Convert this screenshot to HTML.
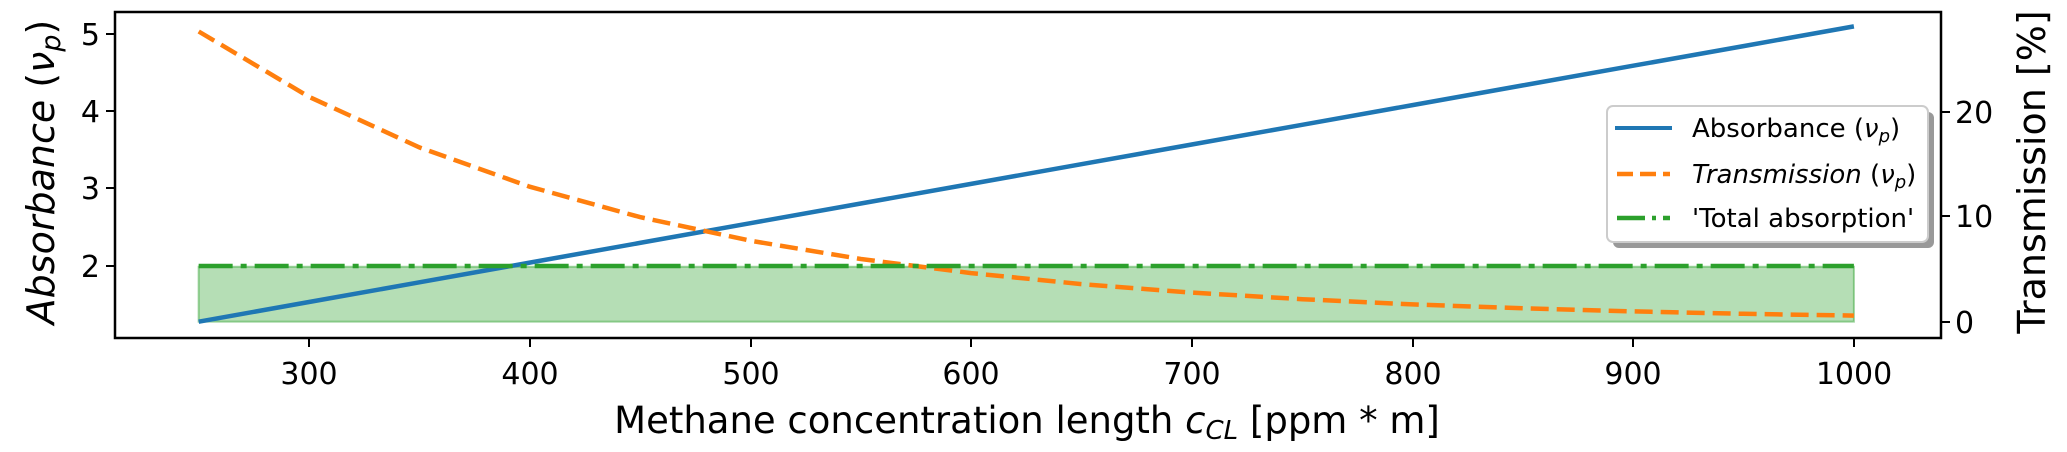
<!DOCTYPE html>
<html><head><meta charset="utf-8"><style>
html,body{margin:0;padding:0;background:#fff;}
svg{display:block;}
text{font-family:"DejaVu Sans","Liberation Sans",sans-serif;fill:#000;}
</style></head><body>
<svg id="s" width="2067" height="452" xmlns="http://www.w3.org/2000/svg">
<rect width="2067" height="452" fill="#fff"/>
<g id="plot"></g>
<rect x="115" y="12" width="1826" height="326" fill="none" stroke="#000" stroke-width="2.5"/>
<g stroke="#000" stroke-width="2">
<line x1="106" y1="34" x2="115" y2="34"/><line x1="106" y1="111" x2="115" y2="111"/>
<line x1="106" y1="188" x2="115" y2="188"/><line x1="106" y1="266" x2="115" y2="266"/>
<line x1="309" y1="338" x2="309" y2="347"/><line x1="530" y1="338" x2="530" y2="347"/>
<line x1="751" y1="338" x2="751" y2="347"/><line x1="971" y1="338" x2="971" y2="347"/>
<line x1="1192" y1="338" x2="1192" y2="347"/><line x1="1413" y1="338" x2="1413" y2="347"/>
<line x1="1633" y1="338" x2="1633" y2="347"/><line x1="1854" y1="338" x2="1854" y2="347"/>
<line x1="1941" y1="112" x2="1950" y2="112"/><line x1="1941" y1="216" x2="1950" y2="216"/>
<line x1="1941" y1="322" x2="1950" y2="322"/>
</g>
<g font-size="30" text-anchor="end">
<text x="100" y="45">5</text><text x="100" y="122">4</text>
<text x="100" y="199">3</text><text x="100" y="277">2</text>
</g>
<g font-size="30" text-anchor="middle">
<text x="309" y="384">300</text><text x="530" y="384">400</text><text x="751" y="384">500</text>
<text x="971" y="384">600</text><text x="1192" y="384">700</text><text x="1413" y="384">800</text>
<text x="1633" y="384">900</text><text x="1854" y="384">1000</text>
</g>
<g font-size="30">
<text x="1955" y="123">20</text><text x="1955" y="227">10</text><text x="1955" y="333">0</text>
</g>
<text x="1027" y="433" font-size="37" text-anchor="middle">Methane concentration length <tspan font-style="italic">c</tspan><tspan font-style="italic" font-size="26" dy="6">CL</tspan><tspan dy="-6"> [ppm * m]</tspan></text>
<text transform="translate(54,172) rotate(-90)" font-size="38" text-anchor="middle"><tspan font-style="italic">Absorbance</tspan> (<tspan font-style="italic">ν</tspan><tspan font-style="italic" font-size="27" dy="6">p</tspan><tspan dy="-6">)</tspan></text>
<text transform="translate(2045,172) rotate(-90)" font-size="38" text-anchor="middle">Transmission [%]</text>
<rect x="1613" y="112" width="321" height="136" rx="6" fill="#999"/>
<rect x="1607" y="106" width="321" height="136" rx="6" fill="#fff" stroke="#ccc" stroke-width="2"/>
<line x1="1615" y1="128" x2="1672" y2="128" stroke="#1f77b4" stroke-width="4"/>
<line x1="1617" y1="174" x2="1670" y2="174" stroke="#ff7f0e" stroke-width="4.5" stroke-dasharray="16,7"/>
<line x1="1617" y1="218" x2="1670" y2="218" stroke="#2ca02c" stroke-width="4.5" stroke-dasharray="28,7,4,7"/>
<g font-size="26">
<text x="1692" y="137">Absorbance (<tspan font-style="italic">ν</tspan><tspan font-style="italic" font-size="18" dy="5">p</tspan><tspan dy="-5">)</tspan></text>
<text x="1692" y="183"><tspan font-style="italic">Transmission</tspan> (<tspan font-style="italic">ν</tspan><tspan font-style="italic" font-size="18" dy="5">p</tspan><tspan dy="-5">)</tspan></text>
<text x="1692" y="227">'Total absorption'</text>
</g>
</svg>
<script>
(function(){
var g=document.getElementById('plot');
function X(v){return 309+(v-300)*2.207;}
function YA(a){return 266-(a-2)*77.3;}
function YT(t){return 322-t*10.45;}
var a0=1.28,a1=5.1;
var pa='',pt='';
for(var i=0;i<=15;i++){
 var v=250+i*50; var a=a0+(v-250)*(a1-a0)/750; var t=100*Math.exp(-a);
 pa+=(i?'L':'M')+X(v).toFixed(1)+','+YA(a).toFixed(1);
 pt+=(i?'L':'M')+X(v).toFixed(1)+','+YT(t).toFixed(1);
}
var ns='http://www.w3.org/2000/svg';
function el(tag,attrs){var e=document.createElementNS(ns,tag);for(var k in attrs)e.setAttribute(k,attrs[k]);g.appendChild(e);return e;}
el('rect',{x:X(250),y:YA(1.99),width:X(1000)-X(250),height:YA(1.28)-YA(1.99),fill:'rgba(44,160,44,0.35)',stroke:'rgba(44,160,44,0.45)','stroke-width':2});
el('path',{d:pa,fill:'none',stroke:'#1f77b4','stroke-width':4.5});
el('path',{d:pt,fill:'none',stroke:'#ff7f0e','stroke-width':4.5,'stroke-dasharray':'18,8'});
el('line',{x1:X(250),y1:266,x2:X(1000),y2:266,stroke:'#2ca02c','stroke-width':4.5,'stroke-dasharray':'34,8,6,8'});
})();
</script>
</body></html>
